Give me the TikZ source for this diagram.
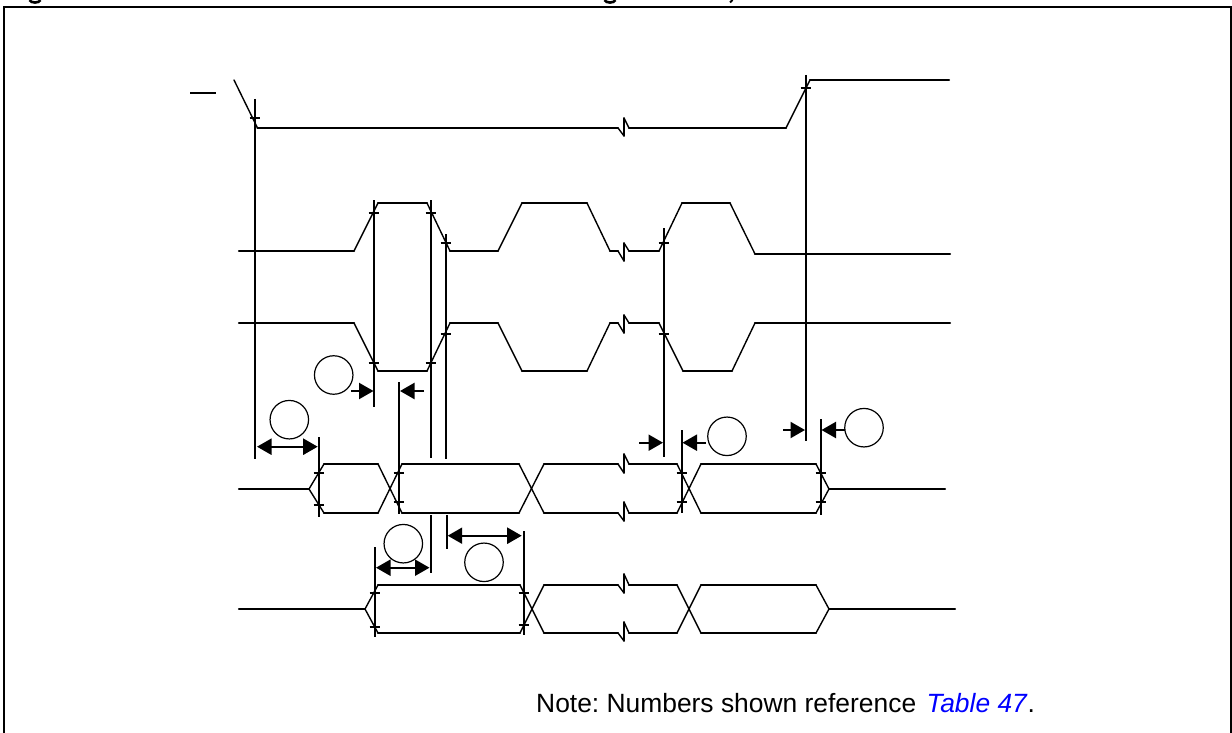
\documentclass[tikz,border=0pt]{standalone}
\usepackage{fontspec}
\setmainfont{Liberation Sans}
\usetikzlibrary{arrows.meta}
\definecolor{linkblue}{RGB}{0,0,255}
\tikzset{
  frameline/.style={line width=2.2pt,line cap=butt,line join=miter},
  flat/.style={line width=2.2pt,line cap=round},
  slant/.style={line width=1.4pt,line cap=round},
  guide/.style={line width=2.2pt,line cap=butt},
  tickmark/.style={line width=2pt},
  bubble/.style={circle,draw,line width=1.2pt,minimum size=38.5pt,inner sep=0pt},
  tipend/.style={-{Triangle[length=14.5pt,width=16pt]},line width=2.2pt},
  tipboth/.style={{Triangle[length=14.5pt,width=16pt]}-{Triangle[length=14.5pt,width=16pt]},line width=2.2pt},
  notetext/.style={inner sep=0pt,anchor=base west,font=\fontsize{26.4pt}{30pt}\selectfont}
}
\newcommand\wave[1]{%
  \foreach \x/\y [remember=\x as \px (initially -1), remember=\y as \py (initially -1)] in {#1}{%
    \ifdim\px pt>-0.5pt
      \ifdim\py pt=\y pt
        \draw[flat] (\px,\py)--(\x,\y);
      \else
        \draw[slant] (\px,\py)--(\x,\y);
      \fi
    \fi}}
\newcommand\guideline[3]{\draw[guide] (#1,#2)--(#1,#3);}
\newcommand\ticks[2]{\foreach \ty in {#2}{\draw[tickmark] (#1-5.3,\ty)--(#1+5.3,\ty);}}
\begin{document}
\begin{tikzpicture}[x=1pt,y=-1pt]
\useasboundingbox (0,0) rectangle (1232,733);
\clip (0,0) rectangle (1232,733);
% frame and clipped heading fragments
\draw[frameline] (4.3,733)--(4.3,6.7)--(1231,6.7)--(1231,733);
\draw[line width=2.6pt] (29.5,0) .. controls (31,3.4) and (39,3.4) .. (40.5,0);
\draw[line width=2.6pt] (604.5,0) .. controls (606,3.4) and (614,3.4) .. (615.5,0);
\draw[line width=2pt] (732.5,0)--(730,2.5);
% overbar
\draw[line width=2pt] (190,93.5)--(216,93.5);
% top signal
\wave{234/80,257.5/128,618/128,624/136,624/118,629/128,786/128,810/80,949/80}
% middle signals
\wave{239/251,354/251,378/203,427/203,450/251,498/251,522/203,587/203,610/251,618/251,624/261,624/243,629/251,659/251,682/203,730/203,755/254,950/254}
\wave{239/323,354/323,378/371,427/371,450/323,498/323,522/371,587/371,610/323,618/323,624/333,624/315,629/323,659/323,683/371,732/371,755/323,950/323}
% bus 1
\wave{239/489,309/489,324/464,378/464,402/513,519/513,544/464,618/464,624/473,624/454,629/464,677/464,701/513,816/513,829/489,945/489}
\wave{309/489,324/513,378/513,402/464,519/464,544/513,618/513,624/521,624/502,629/513,677/513,701/464,816/464,829/489}
% bus 2
\wave{239/609,365/609,378/585,520/585,544/633,618/633,624/641,624/622,629/633,677/633,701/585,816/585,829/609,955/609}
\wave{365/609,378/633,520/633,544/585,618/585,624/593,624/574,629/585,677/585,701/633,816/633,829/609}
% timing guides
\guideline{255}{99}{459}\ticks{255}{118}
\guideline{806}{75}{441}\ticks{806}{87.7}
\guideline{374}{200}{407}\ticks{374}{213,363}
\guideline{431}{200}{458}\ticks{431}{213,363}
\guideline{446}{234}{459}\ticks{446}{243,334}
\guideline{664}{228}{457}\ticks{664}{243,334}
\guideline{399}{382}{514}\ticks{399}{473,502}
\guideline{319}{437}{517}\ticks{319}{473,505}
\guideline{431}{515}{573}
\guideline{447}{515}{549}
\guideline{375}{547}{637}\ticks{375}{593,627}
\guideline{524}{531}{635}\ticks{524}{593,625}
\guideline{682}{430}{513}\ticks{682}{473,502}
\guideline{821}{419}{515}\ticks{821}{473,502}
% reference bubbles
\node[bubble] (c1) at (333.7,375) {};
\node[bubble] (c2) at (289.3,419.7) {};
\node[bubble] (c3) at (403.3,543.7) {};
\node[bubble] (c4) at (484,562.3) {};
\node[bubble] (c5) at (727,436.3) {};
\node[bubble] (c6) at (864,427.7) {};
% dimension arrows
\coordinate (a1s) at (351,391);   \coordinate (a1e) at (373.5,391);
\coordinate (a2s) at (424,391);   \coordinate (a2e) at (400,391);
\coordinate (a3s) at (257,446.7); \coordinate (a3e) at (317.7,446.7);
\coordinate (a4s) at (376,567.7); \coordinate (a4e) at (429.5,567.7);
\coordinate (a5s) at (447.7,535.7);\coordinate (a5e) at (521.7,535.7);
\coordinate (a6s) at (639,442.7); \coordinate (a6e) at (663,442.7);
\coordinate (a7s) at (706,442.7); \coordinate (a7e) at (682.5,442.7);
\coordinate (a8s) at (783,430);   \coordinate (a8e) at (805,430);
\coordinate (a9s) at (845,430);   \coordinate (a9e) at (821.5,430);
\draw[tipend] (a1s)--(a1e);
\draw[tipend] (a2s)--(a2e);
\draw[tipboth] (a3s)--(a3e);
\draw[tipboth] (a4s)--(a4e);
\draw[tipboth] (a5s)--(a5e);
\draw[tipend] (a6s)--(a6e);
\draw[tipend] (a7s)--(a7e);
\draw[tipend] (a8s)--(a8e);
\draw[tipend] (a9s)--(a9e);
% note
\node[notetext] (note) at (536,712) {\frenchspacing Note: Numbers shown reference\hspace{3pt} \textcolor{linkblue}{\textit{Table 47}}.};
\end{tikzpicture}
\end{document}
